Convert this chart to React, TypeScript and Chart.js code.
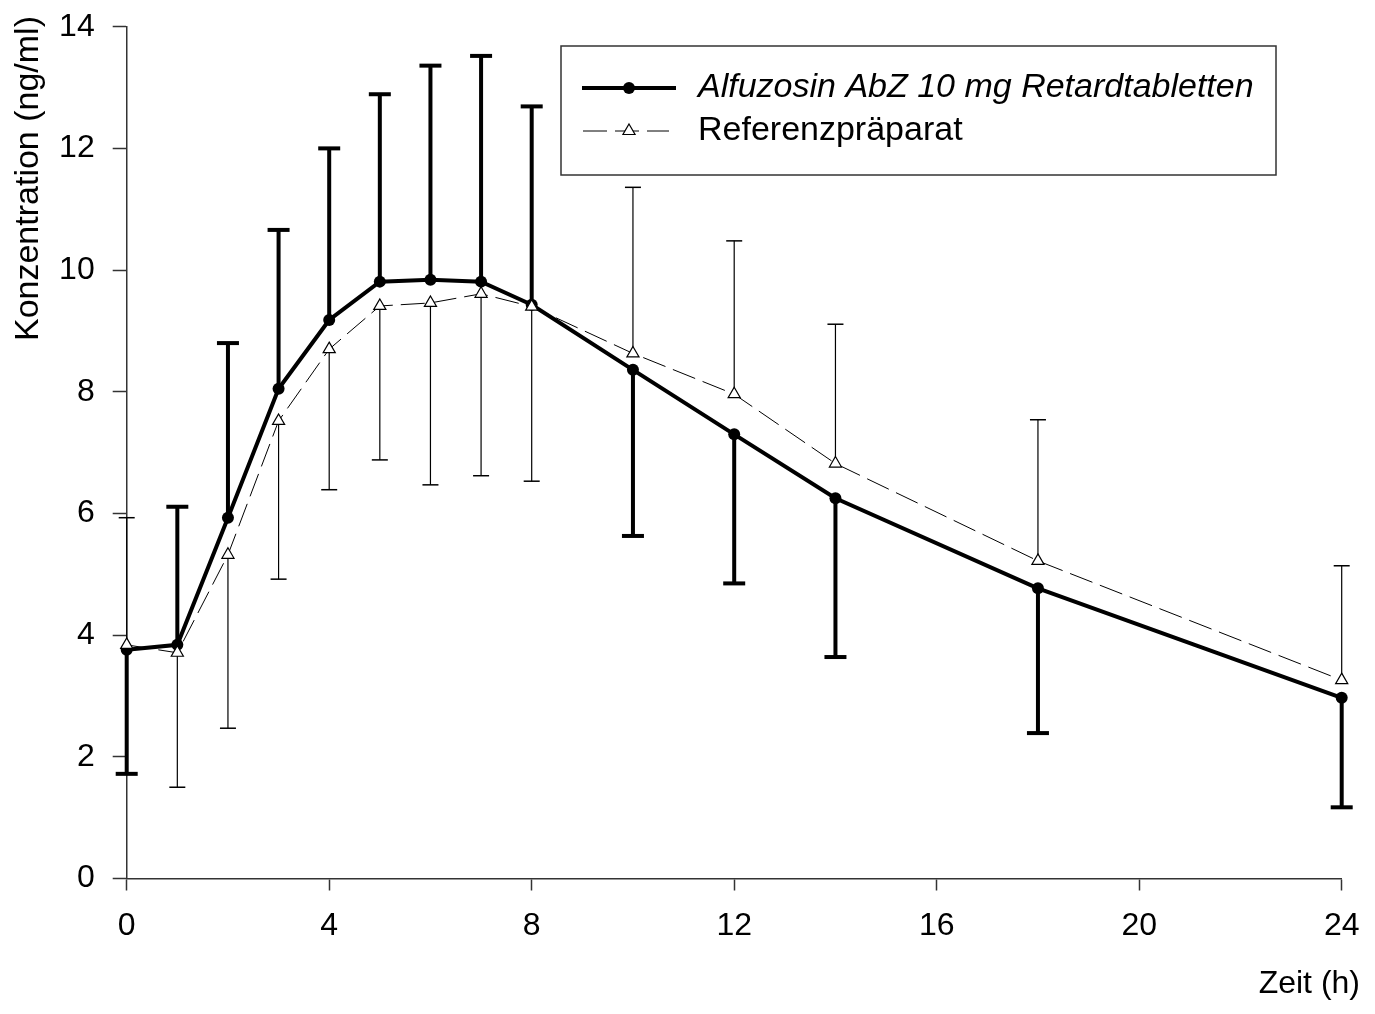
import React, { useEffect, useRef } from "react";
import { Chart, registerables } from "chart.js";

Chart.register(...registerables);

// ---- data ----
const timeH = [0, 1, 2, 3, 4, 5, 6, 7, 8, 10, 12, 14, 18, 24];
const alfuzosinMean = [3.76, 3.84, 5.93, 8.05, 9.18, 9.81, 9.84, 9.81, 9.43, 8.36, 7.3, 6.25, 4.77, 2.97];
const alfuzosinErrEnd = [1.72, 6.11, 8.8, 10.66, 12.0, 12.89, 13.36, 13.52, 12.69, 5.63, 4.85, 3.64, 2.39, 1.17];
const referenzMean = [3.84, 3.71, 5.32, 7.52, 8.7, 9.41, 9.46, 9.61, 9.4, 8.63, 7.96, 6.82, 5.22, 3.26];
const referenzErrEnd = [5.93, 1.5, 2.47, 4.92, 6.39, 6.88, 6.47, 6.62, 6.53, 11.36, 10.48, 9.11, 7.54, 5.14];

const seriesLabels = ["Alfuzosin AbZ 10 mg Retardtabletten", "Referenzpräparat"];
const xTitle = "Zeit (h)";
const yTitle = "Konzentration (ng/ml)";
const xTicks = [0, 4, 8, 12, 16, 20, 24];
const yTicks = [0, 2, 4, 6, 8, 10, 12, 14];

const FONT = "'Liberation Sans', Arial, sans-serif";

const errorBarPlugin = {
  id: "errorBars",
  beforeDatasetsDraw(chart: any) {
    const { ctx, scales } = chart;
    const xs = scales.x;
    const ys = scales.y;
    const sets = [
      { mean: alfuzosinMean, end: alfuzosinErrEnd, lw: 4, cap: 11, capLw: 4 },
      { mean: referenzMean, end: referenzErrEnd, lw: 1.2, cap: 8, capLw: 1.5 },
    ];
    ctx.save();
    ctx.strokeStyle = "#000";
    ctx.lineCap = "butt";
    sets.forEach((s) => {
      timeH.forEach((t, i) => {
        const x = xs.getPixelForValue(t);
        const y0 = ys.getPixelForValue(s.mean[i]);
        const y1 = ys.getPixelForValue(s.end[i]);
        ctx.lineWidth = s.lw;
        ctx.beginPath();
        ctx.moveTo(x, y0);
        ctx.lineTo(x, y1);
        ctx.stroke();
        ctx.lineWidth = s.capLw;
        ctx.beginPath();
        ctx.moveTo(x - s.cap, y1);
        ctx.lineTo(x + s.cap, y1);
        ctx.stroke();
      });
    });
    ctx.restore();
  },
};

function drawTriangle(ctx: CanvasRenderingContext2D, x: number, y: number, r: number) {
  ctx.beginPath();
  for (let k = 0; k < 3; k++) {
    const a = (k * 2 * Math.PI) / 3;
    const px = x + Math.sin(a) * r;
    const py = y - Math.cos(a) * r;
    if (k === 0) ctx.moveTo(px, py);
    else ctx.lineTo(px, py);
  }
  ctx.closePath();
  ctx.fillStyle = "#fff";
  ctx.fill();
  ctx.lineWidth = 1.2;
  ctx.strokeStyle = "#000";
  ctx.stroke();
}

const legendAndTitlesPlugin = {
  id: "legendAndTitles",
  afterDraw(chart: any) {
    const { ctx } = chart;
    ctx.save();
    // legend box
    ctx.strokeStyle = "#333";
    ctx.lineWidth = 1.5;
    ctx.setLineDash([]);
    ctx.strokeRect(561, 46, 715, 129);

    // row 1
    ctx.strokeStyle = "#000";
    ctx.lineWidth = 4;
    ctx.beginPath();
    ctx.moveTo(582, 88);
    ctx.lineTo(676, 88);
    ctx.stroke();
    ctx.fillStyle = "#000";
    ctx.beginPath();
    ctx.arc(629, 88, 6, 0, Math.PI * 2);
    ctx.fill();
    ctx.font = `italic 34px ${FONT}`;
    ctx.textAlign = "left";
    ctx.textBaseline = "middle";
    ctx.fillText(chart.data.datasets[0].label, 698, 88);

    // row 2
    ctx.lineWidth = 1;
    ctx.setLineDash([24, 8]);
    ctx.beginPath();
    ctx.moveTo(583, 131);
    ctx.lineTo(669, 131);
    ctx.stroke();
    ctx.setLineDash([]);
    drawTriangle(ctx, 629, 131, 7);
    ctx.fillStyle = "#000";
    ctx.font = `34px ${FONT}`;
    ctx.fillText(chart.data.datasets[1].label, 698, 131);

    // axis titles
    ctx.font = `32px ${FONT}`;
    ctx.textAlign = "right";
    ctx.textBaseline = "alphabetic";
    ctx.fillText(xTitle, 1360, 993);

    ctx.translate(38, 16);
    ctx.rotate(-Math.PI / 2);
    ctx.font = `34px ${FONT}`;
    ctx.textAlign = "right";
    ctx.textBaseline = "alphabetic";
    ctx.fillText(yTitle, 0, 0);
    ctx.restore();
  },
};

export default function App() {
  const canvasRef = useRef<HTMLCanvasElement | null>(null);

  useEffect(() => {
    if (!canvasRef.current) return;
    const chart = new Chart(canvasRef.current, {
      type: "line",
      data: {
        datasets: [
          {
            label: seriesLabels[0],
            data: timeH.map((t, i) => ({ x: t, y: alfuzosinMean[i] })),
            borderColor: "#000",
            borderWidth: 4,
            pointStyle: "circle",
            pointRadius: 6,
            pointBackgroundColor: "#000",
            pointBorderColor: "#000",
            pointBorderWidth: 0,
            tension: 0,
            order: 2,
            clip: false,
          },
          {
            label: seriesLabels[1],
            data: timeH.map((t, i) => ({ x: t, y: referenzMean[i] })),
            borderColor: "#000",
            borderWidth: 1,
            borderDash: [24, 8],
            pointStyle: "triangle",
            pointRadius: 7,
            pointBackgroundColor: "#fff",
            pointBorderColor: "#000",
            pointBorderWidth: 1.2,
            tension: 0,
            order: 1,
            clip: false,
          },
        ],
      },
      options: {
        animation: false,
        responsive: false,
        maintainAspectRatio: false,
        layout: { padding: { top: 26.7, right: 33.3, left: 0, bottom: 0 } },
        plugins: {
          legend: { display: false },
          tooltip: { enabled: false },
          title: { display: false },
        },
        scales: {
          x: {
            type: "linear",
            min: 0,
            max: 24,
            afterFit: (s: any) => {
              s.height = 135.5;
              s.paddingLeft = 0;
              s.paddingRight = 0;
            },
            afterBuildTicks: (s: any) => {
              s.ticks = xTicks.map((v) => ({ value: v }));
            },
            ticks: {
              font: { family: FONT, size: 32 },
              color: "#000",
              padding: 16,
              maxRotation: 0,
              autoSkip: false,
            },
            grid: {
              drawOnChartArea: false,
              drawTicks: true,
              tickLength: 12,
              tickColor: "#333",
              tickWidth: 1.5,
            },
            border: { display: true, color: "#333", width: 1.5 },
          },
          y: {
            type: "linear",
            min: 0,
            max: 14,
            afterFit: (s: any) => {
              s.width = 126.7;
              s.paddingTop = 0;
              s.paddingBottom = 0;
            },
            afterBuildTicks: (s: any) => {
              s.ticks = yTicks.map((v) => ({ value: v }));
            },
            ticks: {
              font: { family: FONT, size: 32 },
              color: "#000",
              padding: 18,
              autoSkip: false,
            },
            grid: {
              drawOnChartArea: false,
              drawTicks: true,
              tickLength: 14,
              tickColor: "#333",
              tickWidth: 1.5,
            },
            border: { display: true, color: "#333", width: 1.5 },
          },
        },
      },
      plugins: [errorBarPlugin, legendAndTitlesPlugin],
    });
    return () => chart.destroy();
  }, []);

  return (
    <div style={{ position: "absolute", left: 0, top: 0, width: 1375, height: 1014, background: "#fff" }}>
      <canvas ref={canvasRef} width={1375} height={1014} style={{ display: "block" }} />
    </div>
  );
}
